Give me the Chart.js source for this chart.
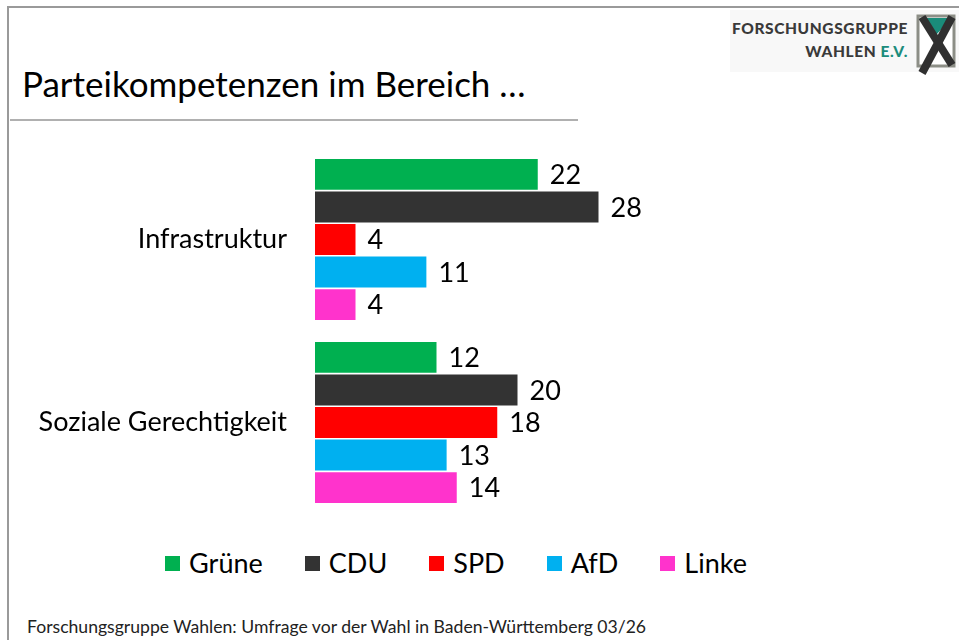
<!DOCTYPE html>
<html lang="de">
<head>
<meta charset="utf-8">
<script src="https://cdn.jsdelivr.net/npm/chart.js@4"></script>
<style>
  html, body { margin: 0; padding: 0; background: #fff; }
  body { width: 959px; height: 640px; position: relative; overflow: hidden; font-family: Lato, "Noto Sans", sans-serif; }
  .rahmen-oben { position: absolute; left: 7px; top: 6px; width: 952px; height: 2px; background: #9a9a9a; }
  .rahmen-links { position: absolute; left: 7px; top: 6px; width: 2px; height: 634px; background: #9a9a9a; }
  .logo { position: absolute; left: 730px; top: 10px; width: 229px; height: 62px; background: #f8f8f8; }
  .logo-text { position: absolute; right: 51px; top: 7px; text-align: right; font-weight: 900; font-size: 15.5px; line-height: 23px; color: #3a3a3a; letter-spacing: 0.6px; }
  .logo-text .ev { color: #1b8c7c; }
  .logo svg { position: absolute; left: 186px; top: 3px; }
  h1 { position: absolute; left: 22px; top: 62px; margin: 0; font-weight: 400; font-size: 35px; line-height: 42px; color: #000; white-space: nowrap; }
  .titel-linie { position: absolute; left: 10px; top: 119px; width: 568px; height: 2px; background: #b0b0b0; }
  #wrap { position: absolute; left: 0; top: 148px; width: 720px; height: 366px; }
  #legende { position: absolute; left: 0; top: 547px; width: 912px; display: flex; justify-content: center; gap: 42px; font-size: 27px; line-height: 32px; color: #000; }
  #legende .item { display: flex; align-items: center; }
  #legende .box { width: 15px; height: 15px; margin-right: 9px; }
  .quelle { position: absolute; left: 27px; top: 616px; font-size: 17.6px; line-height: 22px; color: #222; white-space: nowrap; }
</style>
</head>
<body>
<div class="rahmen-oben"></div>
<div class="rahmen-links"></div>
<div class="logo">
  <div class="logo-text">FORSCHUNGSGRUPPE<br>WAHLEN <span class="ev">E.V.</span></div>
  <svg width="42" height="64" viewBox="0 0 42 64">
    <rect x="2" y="3" width="36" height="50" fill="#fff" stroke="#8c8e86" stroke-width="3"/>
    <polygon points="4,5 36,5 20,22" fill="#1a8c7a"/>
    <line x1="6" y1="4" x2="36" y2="52" stroke="#303030" stroke-width="8"/>
    <line x1="36" y1="4" x2="6" y2="60" stroke="#303030" stroke-width="8"/>
  </svg>
</div>
<h1>Parteikompetenzen im Bereich …</h1>
<div class="titel-linie"></div>
<div id="wrap"><canvas id="chart" width="720" height="366"></canvas></div>
<div id="legende"></div>
<div class="quelle">Forschungsgruppe Wahlen: Umfrage vor der Wahl in Baden-Württemberg 03/26</div>
<script>
const bereiche = ["Infrastruktur", "Soziale Gerechtigkeit"];
const parteien = ["Grüne", "CDU", "SPD", "AfD", "Linke"];
const farben = ["#00b050", "#333333", "#ff0000", "#00b0f0", "#ff33cc"];
const gruene = [22, 12];
const cdu = [28, 20];
const spd = [4, 18];
const afd = [11, 13];
const linke = [4, 14];
const werte = [gruene, cdu, spd, afd, linke];

const schrift = "Lato, 'Noto Sans', sans-serif";

// Zahlen rechts neben die Balken schreiben
const wertLabels = {
  id: "wertLabels",
  afterDatasetsDraw(chart) {
    const ctx = chart.ctx;
    ctx.save();
    ctx.font = "27px " + schrift;
    ctx.fillStyle = "#000";
    ctx.textAlign = "left";
    ctx.textBaseline = "middle";
    chart.data.datasets.forEach((ds, i) => {
      chart.getDatasetMeta(i).data.forEach((bar, j) => {
        ctx.fillText(ds.data[j], bar.x + 12, bar.y + 1);
      });
    });
    ctx.restore();
  }
};

new Chart(document.getElementById("chart"), {
  type: "bar",
  data: {
    labels: bereiche,
    datasets: parteien.map((p, i) => ({
      label: p,
      data: werte[i],
      backgroundColor: farben[i],
      borderWidth: 0,
      categoryPercentage: 0.89,
      barPercentage: 0.95
    }))
  },
  options: {
    indexAxis: "y",
    responsive: false,
    animation: false,
    devicePixelRatio: 1,
    layout: { padding: 0 },
    plugins: {
      legend: { display: false },
      tooltip: { enabled: false }
    },
    scales: {
      x: {
        display: false,
        min: 0,
        max: 40
      },
      y: {
        grid: { display: false, drawTicks: false },
        border: { display: false },
        ticks: {
          color: "#000",
          padding: 28,
          font: { family: schrift, size: 27 }
        },
        afterFit(scale) {
          // feste Breite, damit die Balken bei x=315 anfangen
          scale.width = 315;
          scale.paddingTop = 0;
          scale.paddingBottom = 0;
        }
      }
    }
  },
  plugins: [wertLabels]
});

const legende = document.getElementById("legende");
legende.innerHTML = parteien
  .map((p, i) => `<div class="item"><span class="box" style="background:${farben[i]}"></span>${p}</div>`)
  .join("");
</script>
</body>
</html>
